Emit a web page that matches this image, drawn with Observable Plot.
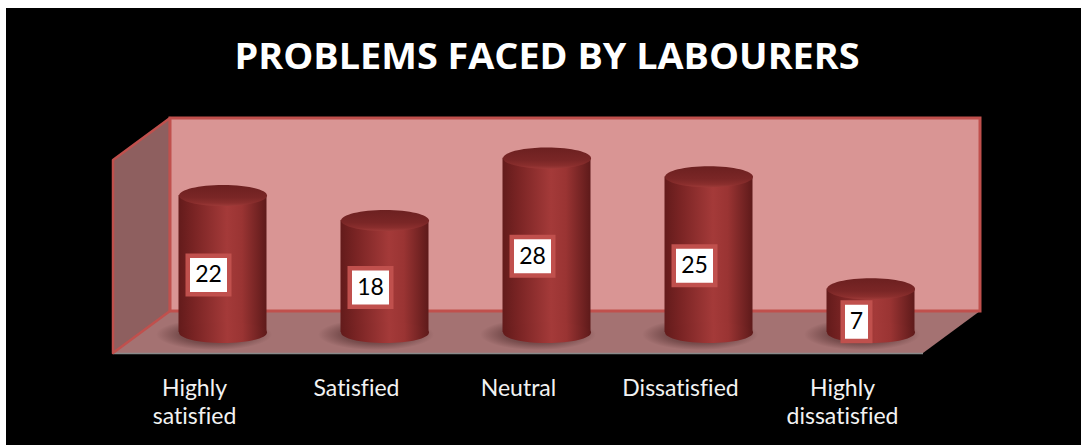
<!DOCTYPE html>
<html><head><meta charset="utf-8">
<script src="https://cdn.jsdelivr.net/npm/d3@7"></script>
<script src="https://cdn.jsdelivr.net/npm/@observablehq/plot@0.6"></script>
<style>
html,body{margin:0;padding:0;background:#fff;}
#frame{position:absolute;left:6px;top:8px;width:1075px;height:437px;background:#000;overflow:hidden;}
#title{position:absolute;left:0;top:23px;width:1075px;text-align:center;color:#fff;font-family:"Open Sans",sans-serif;font-weight:bold;font-size:35.7px;line-height:normal;white-space:nowrap;}
#title span{display:inline-block;transform-origin:50% 50%;}
#chart{position:absolute;left:0;top:100px;}
#chart svg text{font-variant-ligatures:none;}
</style></head>
<body>
<div id="frame">
  <div id="title"><span id="titleText"></span></div>
  <div id="chart"></div>
</div>
<script>
const title = "PROBLEMS FACED BY LABOURERS";
const categories = ["Highly satisfied", "Satisfied", "Neutral", "Dissatisfied", "Highly dissatisfied"];
const tickLabels = ["Highly\nsatisfied", "Satisfied", "Neutral", "Dissatisfied", "Highly\ndissatisfied"];
const values = [22, 18, 28, 25, 7];
const yMax = 31;

const data = categories.map((c, i) => ({category: c, value: values[i], label: tickLabels[i]}));

// depth of the pseudo-3D box (pixels)
const DX = 57, DY = 42;
const MX = DX / 2, MY = DY / 2;

const ellipse = (ratio) => ({
  draw(ctx, size) {
    const rx = Math.sqrt(size / Math.PI), ry = rx * ratio, k = 0.5523;
    ctx.moveTo(rx, 0);
    ctx.bezierCurveTo(rx, ry * k, rx * k, ry, 0, ry);
    ctx.bezierCurveTo(-rx * k, ry, -rx, ry * k, -rx, 0);
    ctx.bezierCurveTo(-rx, -ry * k, -rx * k, -ry, 0, -ry);
    ctx.bezierCurveTo(rx * k, -ry, rx, -ry * k, rx, 0);
    ctx.closePath();
  }
});
const labelBox = {
  draw(ctx, size) {
    const r = Math.sqrt(size / Math.PI), h = 38.5;
    ctx.rect(-r, -h / 2, 2 * r, h);
  }
};

const defsMark = () => {
  const svg = d3.create("svg:g");
  const defs = svg.append("defs");
  const body = defs.append("linearGradient").attr("id", "cylBody").attr("x1", 0).attr("x2", 1).attr("y1", 0).attr("y2", 0);
  [[0, "#631b1b"], [0.18, "#7a2424"], [0.55, "#a43a39"], [0.72, "#9a3433"], [1, "#5e1a1a"]]
    .forEach(([o, c]) => body.append("stop").attr("offset", o).attr("stop-color", c));
  const top = defs.append("linearGradient").attr("id", "cylTop").attr("x1", 0).attr("x2", 0).attr("y1", 0).attr("y2", 1);
  [[0, "#6c2020"], [0.6, "#7a2626"], [0.85, "#8a2e2d"], [1, "#9e3a38"]]
    .forEach(([o, c]) => top.append("stop").attr("offset", o).attr("stop-color", c));
  const sh = defs.append("radialGradient").attr("id", "shadow");
  [[0, "rgba(40,10,10,0.6)"], [0.6, "rgba(40,10,10,0.35)"], [1, "rgba(40,10,10,0)"]]
    .forEach(([o, c]) => sh.append("stop").attr("offset", o).attr("stop-color", c));
  return svg.node();
};

const wallsMark = (index, scales, values, dim) => {
  const x0 = dim.marginLeft, x1 = dim.width - dim.marginRight;
  const yt = dim.marginTop, yb = dim.height - dim.marginBottom;
  const g = d3.create("svg:g");
  const pts = (a) => a.map(p => p.join(",")).join(" ");
  // floor
  g.append("polygon").attr("points", pts([[x0, yb + DY], [x1, yb + DY], [x1 + DX, yb], [x0 + DX, yb]]))
    .attr("fill", "#a47272");
  g.append("line").attr("x1", x0).attr("x2", x1).attr("y1", yb + DY + 0.5).attr("y2", yb + DY + 0.5)
    .attr("stroke", "#8a8a8a").attr("stroke-width", 1.5);
  // side wall
  g.append("polygon").attr("points", pts([[x0, yb + DY], [x0, yt + DY], [x0 + DX, yt], [x0 + DX, yb]]))
    .attr("fill", "#8e5f5f").attr("stroke", "#c0504d").attr("stroke-width", 2.5).attr("stroke-linejoin", "round");
  // back wall
  g.append("rect").attr("x", x0 + DX).attr("y", yt).attr("width", x1 - x0).attr("height", yb - yt)
    .attr("fill", "#d99594").attr("stroke", "#c0504d").attr("stroke-width", 3);
  return g.node();
};

const chart = Plot.plot({
  width: 1075,
  height: 337,
  marginLeft: 107,
  marginRight: 158,
  marginTop: 10,
  marginBottom: 134,
  x: {type: "band", domain: categories, padding: 0, axis: null},
  y: {domain: [0, yMax], axis: null},
  r: {type: "identity"},
  style: {background: "none", fontFamily: "Lato, sans-serif", overflow: "visible"},
  marks: [
    defsMark,
    wallsMark,
    Plot.dot(data, {x: "category", y: d => 0, r: 58, symbol: ellipse(0.27), fill: "url(#shadow)", dx: MX - 9, dy: MY + 2}),
    Plot.barY(data, {x: "category", y: "value", fill: "url(#cylBody)", insetLeft: 37, insetRight: 37, dx: MX, dy: MY}),
    Plot.dot(data, {x: "category", y: d => 0, r: 44, symbol: ellipse(0.24), fill: "url(#cylBody)", dx: MX, dy: MY}),
    Plot.dot(data, {x: "category", y: "value", r: 44, symbol: ellipse(0.24), fill: "url(#cylTop)", dx: MX, dy: MY}),
    Plot.dot(data, {x: "category", y: d => d.value / 2, r: d => 6.75 + 7 * String(d.value).length, symbol: labelBox,
      fill: "#ffffff", stroke: "#c0504d", strokeWidth: 4.5, dx: 14, dy: 32}),
    Plot.text(data, {x: "category", y: d => d.value / 2, text: d => String(d.value), dx: 14, dy: 32,
      fontSize: 23, fill: "#000"}),
    Plot.text(data, {x: "category", text: "label", frameAnchor: "bottom", dy: 64, lineAnchor: "top",
      lineHeight: 1.24, fontSize: 23, fill: "#f2f2f2"})
  ]
});
document.getElementById("chart").appendChild(chart);

const t = document.getElementById("titleText");
t.textContent = title;
const w = t.getBoundingClientRect().width;
t.style.transform = `translateX(4px) scaleX(${625 / w})`;
</script>
</body></html>
